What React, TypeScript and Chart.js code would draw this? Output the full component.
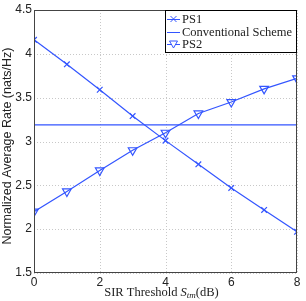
import React, { useEffect, useRef } from "react";
import { Chart, registerables } from "chart.js";

Chart.register(...registerables);

const xValues = [0, 1, 2, 3, 4, 5, 6, 7, 8];
const ps1 = [4.16, 3.88, 3.59, 3.29, 3.01, 2.74, 2.47, 2.22, 1.97];
const ps2 = [2.2, 2.43, 2.67, 2.9, 3.1, 3.32, 3.45, 3.6, 3.72];
const conventional = [3.19, 3.19, 3.19, 3.19, 3.19, 3.19, 3.19, 3.19, 3.19];
const seriesNames = ["PS1", "Conventional Scheme", "PS2"];
const yTitle = "Normalized Average Rate (nats/Hz)";
const xTitleParts = ["SIR Threshold ", "S", "tm", "(dB)"];

const BLUE = "#3355ff";

const framePlugin = {
  id: "frameLegend",
  beforeDatasetsDraw(chart: any) {
    const { ctx, chartArea, scales } = chart;
    const { left, right, top, bottom } = chartArea;
    ctx.save();
    ctx.strokeStyle = "#c8c8c8";
    ctx.lineWidth = 1;
    ctx.setLineDash([1, 2]);
    scales.x.ticks.forEach((t: any) => {
      const px = Math.round(scales.x.getPixelForValue(t.value)) + 0.5;
      ctx.beginPath();
      ctx.moveTo(px, top);
      ctx.lineTo(px, bottom);
      ctx.stroke();
    });
    scales.y.ticks.forEach((t: any) => {
      const py = Math.round(scales.y.getPixelForValue(t.value)) + 0.5;
      ctx.beginPath();
      ctx.moveTo(left, py);
      ctx.lineTo(right, py);
      ctx.stroke();
    });
    ctx.restore();
  },
  afterDraw(chart: any) {
    const { ctx, chartArea } = chart;
    const { left, right, top, bottom } = chartArea;
    ctx.save();
    ctx.strokeStyle = "#444";
    ctx.lineWidth = 1;
    ctx.strokeRect(left + 0.5, top + 0.5, right - left - 1, bottom - top - 1);

    // y title
    ctx.save();
    ctx.translate(8, 146);
    ctx.rotate(-Math.PI / 2);
    ctx.font = "12.5px 'Liberation Sans'";
    ctx.fillStyle = "#222";
    ctx.textAlign = "center";
    ctx.textBaseline = "middle";
    ctx.fillText(yTitle, 0, 0);
    ctx.restore();

    // legend
    const lx = 165, ly = top, lw = right - lx, lh = 43;
    ctx.fillStyle = "#fff";
    ctx.fillRect(lx, ly, lw, lh);
    ctx.strokeStyle = "#000";
    ctx.strokeRect(lx + 0.5, ly + 0.5, lw - 1, lh - 1);
    ctx.font = "12.5px 'Liberation Serif'";
    ctx.textBaseline = "middle";
    const markers = ["crossRot", "line", "triangle"];
    seriesNames.forEach((name, i) => {
      const cy = ly + 9 + i * 12.5;
      const mx = lx + 8.5;
      ctx.strokeStyle = BLUE;
      ctx.lineWidth = 1;
      ctx.beginPath();
      ctx.moveTo(lx + 2, Math.round(cy) + 0.5);
      ctx.lineTo(lx + 15, Math.round(cy) + 0.5);
      ctx.stroke();
      if (markers[i] === "crossRot") {
        ctx.beginPath();
        ctx.moveTo(mx - 3, cy - 3);
        ctx.lineTo(mx + 3, cy + 3);
        ctx.moveTo(mx + 3, cy - 3);
        ctx.lineTo(mx - 3, cy + 3);
        ctx.stroke();
      } else if (markers[i] === "triangle") {
        ctx.beginPath();
        ctx.moveTo(mx - 4, cy - 3);
        ctx.lineTo(mx + 4, cy - 3);
        ctx.lineTo(mx, cy + 4);
        ctx.closePath();
        ctx.fillStyle = "#fff";
        ctx.fill();
        ctx.stroke();
      }
      ctx.fillStyle = "#222";
      ctx.textAlign = "left";
      ctx.fillText(name, lx + 17, cy + 1);
    });

    // x title
    const baseY = 296;
    const f1 = "12.5px 'Liberation Serif'";
    const f2 = "italic 12.5px 'Liberation Serif'";
    const f3 = "italic 9px 'Liberation Serif'";
    ctx.fillStyle = "#222";
    ctx.textBaseline = "alphabetic";
    const widths = [f1, f2, f3, f1].map((f, i) => {
      ctx.font = f;
      return ctx.measureText(xTitleParts[i]).width;
    });
    const total = widths.reduce((a, b) => a + b, 0);
    let x = (left + right) / 2 - total / 2 - 4;
    [f1, f2, f3, f1].forEach((f, i) => {
      ctx.font = f;
      ctx.fillText(xTitleParts[i], x, i === 2 ? baseY + 2 : baseY);
      x += widths[i];
    });
    ctx.restore();
  },
};

export default function App() {
  const ref = useRef<HTMLCanvasElement | null>(null);
  useEffect(() => {
    document.body.style.margin = "0";
    const chart = new Chart(ref.current as HTMLCanvasElement, {
      type: "line",
      data: {
        labels: xValues,
        datasets: [
          {
            label: seriesNames[0],
            data: ps1.map((v, i) => ({ x: xValues[i], y: v })),
            borderColor: BLUE,
            backgroundColor: BLUE,
            borderWidth: 1.2,
            pointStyle: "crossRot",
            pointRadius: 4,
            pointBorderWidth: 1.2,
          },
          {
            label: seriesNames[1],
            data: conventional.map((v, i) => ({ x: xValues[i], y: v })),
            borderColor: BLUE,
            borderWidth: 1.2,
            pointRadius: 0,
          },
          {
            label: seriesNames[2],
            data: ps2.map((v, i) => ({ x: xValues[i], y: v })),
            borderColor: BLUE,
            backgroundColor: "rgba(255,255,255,0)",
            borderWidth: 1.2,
            pointStyle: "triangle",
            rotation: 180,
            pointRadius: 5,
            pointBorderWidth: 1.2,
          },
        ],
      },
      plugins: [framePlugin],
      options: {
        animation: false,
        responsive: false,
        devicePixelRatio: 1,
        layout: { padding: { top: 10, right: 9, left: 0, bottom: 0 } },
        plugins: { legend: { display: false }, tooltip: { enabled: false } },
        scales: {
          x: {
            type: "linear",
            min: 0,
            max: 8,
            ticks: {
              stepSize: 2,
              color: "#222",
              padding: 2,
              font: { family: "'Liberation Sans'", size: 12 },
            },
            grid: { display: false, drawTicks: false },
            border: { display: false },
            afterFit: (s: any) => {
              s.height = 28;
            },
          },
          y: {
            min: 1.5,
            max: 4.5,
            ticks: {
              stepSize: 0.5,
              color: "#222",
              padding: 2,
              font: { family: "'Liberation Sans'", size: 12 },
              callback: (v: any) => String(Number(v)),
            },
            grid: { display: false, drawTicks: false },
            border: { display: false },
            afterFit: (s: any) => {
              s.width = 34;
            },
          },
        },
      },
    } as any);
    return () => chart.destroy();
  }, []);
  return (
    <div style={{ width: 306, height: 301 }}>
      <canvas ref={ref} width={306} height={301} style={{ width: 306, height: 301 }} />
    </div>
  );
}
